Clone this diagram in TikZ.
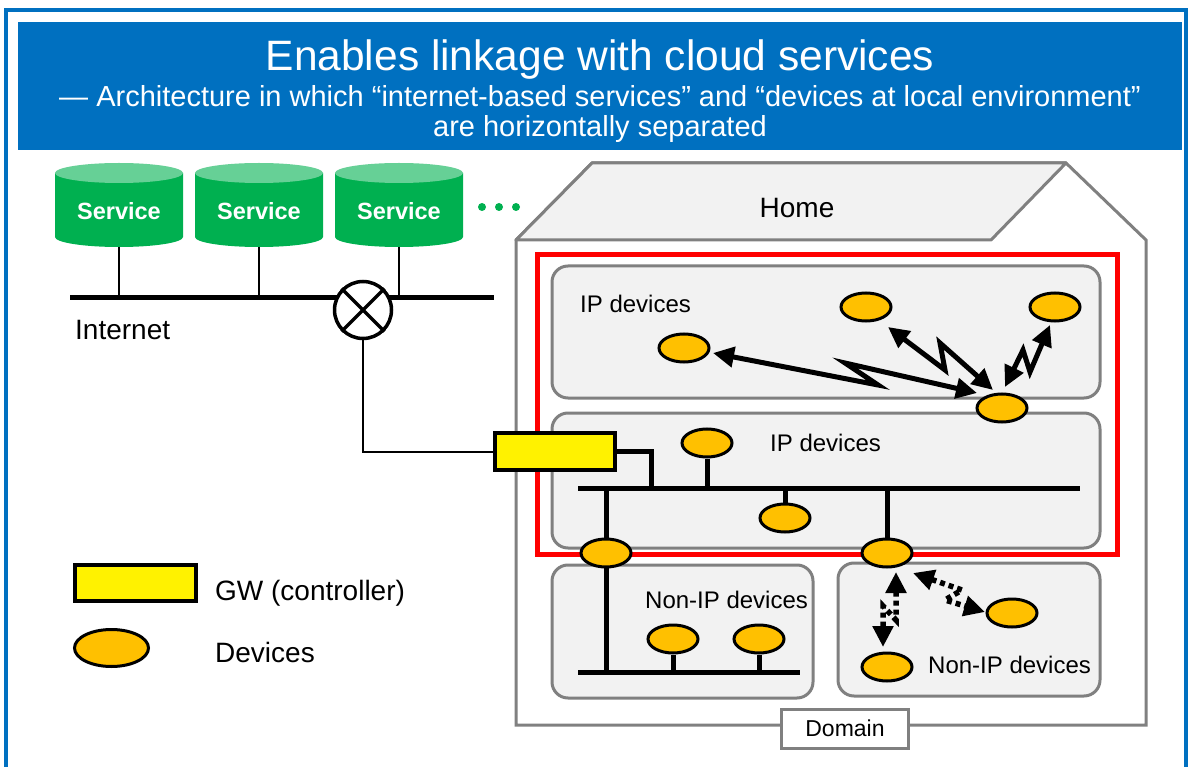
\documentclass[tikz,border=0pt]{standalone}
\usepackage{fontspec}
\setmainfont{Liberation Sans}
\usetikzlibrary{arrows.meta,shapes.geometric,calc}
\pgfdeclarelayer{back}
\pgfdeclarelayer{mid}
\pgfsetlayers{back,mid,main}
\definecolor{tblue}{RGB}{0,112,192}
\definecolor{sgreen}{RGB}{0,176,80}
\definecolor{sgreenl}{RGB}{102,208,150}
\definecolor{dorange}{RGB}{255,192,0}
\definecolor{hgray}{RGB}{128,128,128}
\definecolor{bgray}{RGB}{242,242,242}
\begin{document}
\begin{tikzpicture}[x=1pt,y=-1pt,
  device/.style={ellipse,draw=black,line width=3pt,fill=dorange,minimum width=50pt,minimum height=28pt,inner sep=0pt},
  gwbox/.style={rectangle,draw=black,line width=3.5pt,fill=yellow,inner sep=0pt},
  region/.style={draw=hgray,line width=3pt,fill=bgray,rounded corners=16pt},
  bus/.style={line width=5pt},
  stem/.style={line width=5pt},
  link/.style={line width=2pt},
  wl/.style={line width=5pt,{Triangle[length=21pt,width=20pt]}-{Triangle[length=21pt,width=20pt]}},
  wd/.style={line width=5.5pt,dash pattern=on 5pt off 4pt,{Triangle[length=21pt,width=20pt]}-{Triangle[length=21pt,width=20pt]}},
  t24/.style={font=\fontsize{24}{28}\selectfont,inner sep=0pt},
  t28/.style={font=\fontsize{28}{32}\selectfont,inner sep=0pt},
]
\useasboundingbox (0,0) rectangle (1189,767);

% ---------- background layer ----------
\begin{pgfonlayer}{back}
  \fill[tblue] (18,22) rectangle (1182,150);
  \draw[tblue,line width=4pt] (6,780) -- (6,10) -- (1186,10) -- (1186,780);
  % cylinders
  \foreach \L/\n in {55/1,195/2,335/3}{
    \fill[sgreen] (\L,173) -- (\L,237) arc[start angle=180,end angle=360,x radius=64pt,y radius=10pt] -- (\L+128,173) -- cycle;
    \fill[sgreenl] (\L+64,173) ellipse[x radius=64pt,y radius=10pt];
    \coordinate (cb\n) at (\L+64,247);
  }
  \foreach \x in {482,499,516} \fill[sgreen] (\x,207) circle[radius=4pt];
  % house
  \draw[hgray,line width=3pt,fill=white] (516,725) -- (516,240) -- (592,163) -- (1066,163) -- (1146,240) -- (1146,725) -- cycle;
  \draw[hgray,line width=3pt,fill=bgray,line join=round] (516,240) -- (592,163) -- (1066,163) -- (991,240) -- cycle;
  % regions
  \draw[region] (552,266) rectangle (1100,398);
  \draw[region] (552,413) rectangle (1100,548);
  \draw[region] (552,565) rectangle (813,698);
  \draw[region] (838,563) rectangle (1100,696);
  \draw[red,line width=5pt] (537,255) rectangle (1117,554);
\end{pgfonlayer}

% ---------- nodes ----------
\node[text=white,font=\fontsize{42.5}{48}\selectfont,inner sep=0pt,anchor=base] (title) at (600,71) {Enables linkage with cloud services};
\node[text=white,font=\fontsize{29}{32}\selectfont,inner sep=0pt,anchor=base] (sub1) at (600,107) {— Architecture in which “internet-based services” and “devices at local environment”};
\node[text=white,font=\fontsize{29}{32}\selectfont,inner sep=0pt,anchor=base] (sub2) at (600,137) {are horizontally separated};

\foreach \L/\n in {55/1,195/2,335/3}
  \node[text=white,font=\bfseries\fontsize{23.5}{27}\selectfont,inner sep=0pt,anchor=base] (svc\n) at (\L+64,220) {Service};

\coordinate (ibL) at (70,298);
\coordinate (ibR) at (494,298);
\coordinate (ipL) at (578,488);
\coordinate (ipR) at (1080,488);
\coordinate (npL) at (578,672);
\coordinate (npR) at (800,672);
\coordinate (gwj) at (651,488);

\node[t28,anchor=base west] (inet) at (75,340) {Internet};
\node[circle,draw,line width=3.5pt,fill=white,minimum size=57pt,inner sep=0pt] (router) at (363,310) {};
\draw[line width=3.5pt] (router.45) -- (router.225) (router.135) -- (router.315);

\node[t28,anchor=base] (home) at (797,218) {Home};
\node[t24,anchor=base west] (ipa) at (580,313) {IP devices};
\node[t24,anchor=base west] (ipb) at (770,451) {IP devices};
\node[t24,anchor=base west] (npc) at (645,608) {Non-IP devices};
\node[t24,anchor=base west] (npd) at (928,673) {Non-IP devices};

\node[device] (a1) at (684,348) {};
\node[device] (a2) at (866,307) {};
\node[device] (a3) at (1055,307) {};
\node[device] (h1) at (1002,408) {};
\node[device] (b1) at (707,443) {};
\node[device] (b2) at (785,518) {};
\node[device] (g1) at (606,553) {};
\node[device] (g2) at (887,553) {};
\node[device] (c1) at (673,639) {};
\node[device] (c2) at (759,639) {};
\node[device] (d1) at (1012,613) {};
\node[device] (d2) at (887,667) {};

\node[gwbox,minimum width=120pt,minimum height=37pt] (gw) at (555,451.5) {};

\node[draw=hgray,line width=3pt,fill=white,minimum width=127pt,minimum height=39pt,inner sep=0pt,font=\fontsize{23}{27}\selectfont] (domain) at (845,728.5) {Domain};

% legend
\node[gwbox,minimum width=121pt,minimum height=36pt] (lgw) at (135.5,583) {};
\node[device,minimum width=74pt,minimum height=37pt] (ldev) at (111.5,648) {};
\node[t28,anchor=base west] (lgwt) at (215,600) {GW (controller)};
\node[t28,anchor=base west] (ldevt) at (215,662) {Devices};

% ---------- connectors ----------
\begin{pgfonlayer}{mid}
  \draw[bus] (ibL) -- (ibR);
  \foreach \n in {1,2,3} \draw[link] (cb\n) -- (cb\n |- ibL);
  \draw[link] (router.south) |- (gw.west);
  \draw[stem] (gw.east) -| (gwj);
  \draw[bus] (ipL) -- (ipR);
  \draw[stem] (b1) -- (b1 |- ipL);
  \draw[stem] (b2) -- (b2 |- ipL);
  \draw[bus] (g1 |- ipL) -- (g1 |- npL);
  \draw[bus] (npL) -- (npR);
  \draw[stem] (c1) -- (c1 |- npL);
  \draw[stem] (c2) -- (c2 |- npL);
  \draw[stem] (g2 |- ipL) -- (g2);
  % wireless links
  \draw[wl] ($(a1)+(29,5)$) -- (878,385) -- (845,363) -- ($(h1)+(-25,-15)$);
  \draw[wl] ($(a2)+(22,20)$) -- (945,370) -- (940,343) -- ($(h1)+(-9,-18)$);
  \draw[wl] ($(h1)+(3,-21)$) -- (1023,350) -- (1030,372) -- ($(a3)+(-5,18)$);
  % non-IP wireless links
  \draw[wd] ($(g2)+(9,19)$) -- (896,620) -- (883,606) -- ($(d2)+(-4,-20)$);
  \draw[wd] ($(g2)+(26,20)$) -- (962,590) -- (945,600) -- ($(d1)+(-27,-1)$);
\end{pgfonlayer}
\end{tikzpicture}
\end{document}
